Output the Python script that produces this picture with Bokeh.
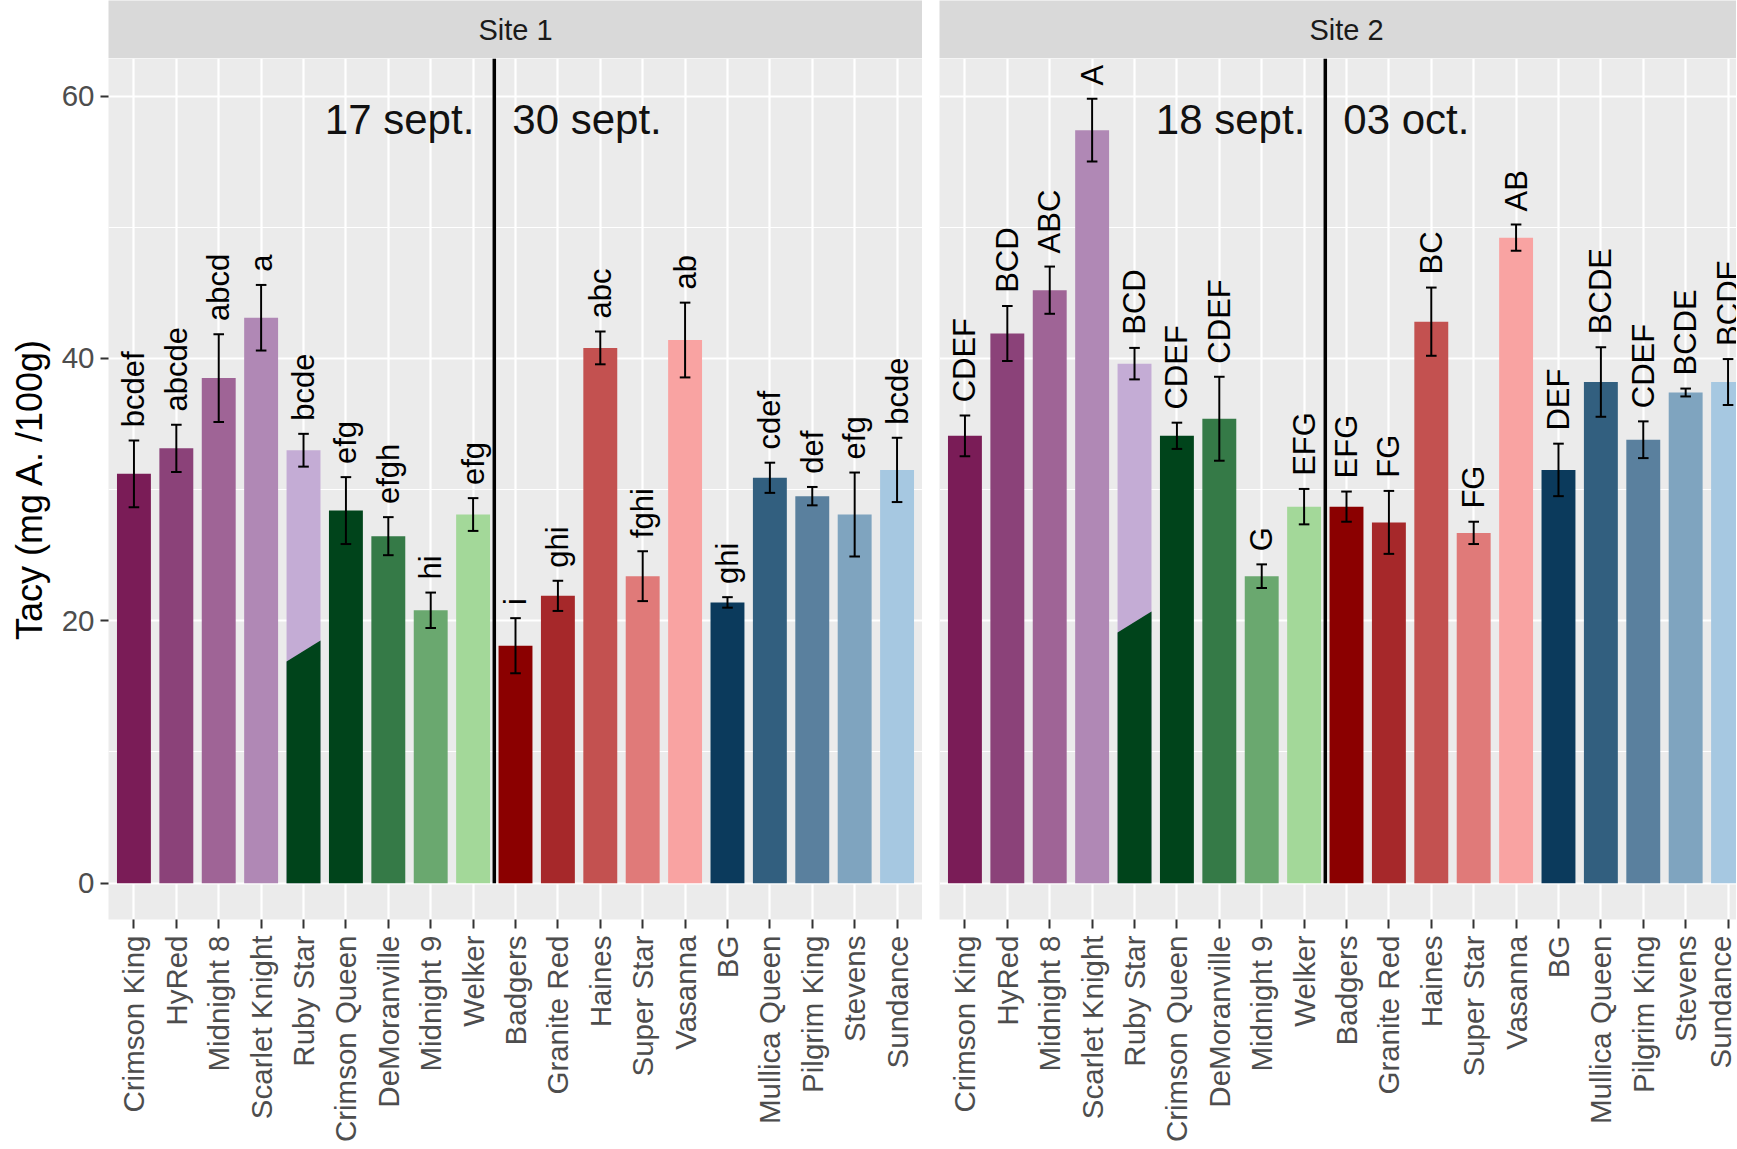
import math
from bokeh.plotting import figure
from bokeh.layouts import row, column
from bokeh.models import Range1d, FixedTicker, Grid, ColumnDataSource, Label
from bokeh.embed import file_html
from bokeh.resources import INLINE
from bokeh.core.properties import value

# ---------------- data ----------------
cultivars = ["Crimson King", "HyRed", "Midnight 8", "Scarlet Knight", "Ruby Star",
             "Crimson Queen", "DeMoranville", "Midnight 9", "Welker",
             "Badgers", "Granite Red", "Haines", "Super Star", "Vasanna",
             "BG", "Mullica Queen", "Pilgrim King", "Stevens", "Sundance"]

bar_colors = ["#7A1C57", "#8B4279", "#9F6496", "#B088B5", "#C4ACD5",
              "#00441B", "#357A47", "#6AA86F", "#A3D899",
              "#8B0000", "#A6282A", "#C35150", "#E07A79", "#F9A3A2",
              "#0B3A5C", "#325F7F", "#5A809E", "#7FA4BF", "#A6C8E1"]

site1_mean = [31.2, 33.15, 38.5, 43.1, 33.0, 28.4, 26.45, 20.8, 28.1,
              18.1, 21.9, 40.8, 23.4, 41.4, 21.4, 30.9, 29.5, 28.1, 31.5]
site1_se = [2.55, 1.8, 3.35, 2.5, 1.25, 2.55, 1.45, 1.35, 1.25,
            2.1, 1.15, 1.25, 1.9, 2.85, 0.4, 1.15, 0.7, 3.2, 2.45]
site1_letters = ["bcdef", "abcde", "abcd", "a", "bcde", "efg", "efgh", "hi", "efg",
                 "i", "ghi", "abc", "fghi", "ab", "ghi", "cdef", "def", "efg", "bcde"]

site2_mean = [34.1, 41.9, 45.2, 57.4, 39.6, 34.1, 35.4, 23.4, 28.7,
              28.7, 27.5, 42.8, 26.7, 49.2, 31.5, 38.2, 33.8, 37.4, 38.2]
site2_se = [1.55, 2.1, 1.8, 2.4, 1.2, 1.0, 3.2, 0.9, 1.35,
            1.15, 2.4, 2.6, 0.85, 1.0, 2.0, 2.65, 1.4, 0.3, 1.75]
site2_letters = ["CDEF", "BCD", "ABC", "A", "BCD", "CDEF", "CDEF", "G", "EFG",
                 "EFG", "FG", "BC", "FG", "AB", "DEF", "BCDE", "CDEF", "BCDE", "BCDE"]

site_names = ["Site 1", "Site 2"]
site1_dates = ["17 sept.", "30 sept."]
site2_dates = ["18 sept.", "03 oct."]

# dark-green lower part drawn on the Ruby Star bar (left edge, right edge heights)
ruby_green_site1 = [16.9, 18.5]
ruby_green_site2 = [19.1, 20.7]
ruby_index = 4
split_after = 8  # separator between Welker and Badgers

y_ticks = [0, 20, 40, 60]
y_minor = [10, 30, 50]

# ---------------- styling ----------------
FONT = "Liberation Sans"
Y0, Y1 = -2.77, 62.86
BAR_W = 0.8
CAP = 0.125
MAIN_H = 1090
STRIP_H = 58
UNIT_PX = 814 / 19.2
TICK_FS = "29.5px"


def make_panel(site, means, ses, letters, dates, green, width, mbl, x_end, show_y):
    n = len(means)
    xs = list(range(n))
    lo = [m - s for m, s in zip(means, ses)]
    hi = [m + s for m, s in zip(means, ses)]
    src = ColumnDataSource(dict(
        x=xs, mean=means, lo=lo, hi=hi, color=bar_colors,
        xl=[x - CAP for x in xs], xr=[x + CAP for x in xs],
        ly=[h + 1.0 for h in hi], letter=letters))

    xr = Range1d(-0.6, x_end)
    p = figure(width=width, height=MAIN_H, x_range=xr, y_range=Range1d(Y0, Y1),
               output_backend="svg", toolbar_location=None,
               min_border_left=mbl, min_border_right=0, min_border_top=0,
               min_border_bottom=MAIN_H - 861,
               background_fill_color="#EBEBEB", border_fill_color="white",
               outline_line_color=None,
               y_axis_location="left" if show_y else None)

    # grids
    p.xgrid.ticker = FixedTicker(ticks=xs)
    p.xgrid.grid_line_color = "white"
    p.xgrid.grid_line_width = 2.2
    if show_y:
        yg = p.ygrid[0]
    else:
        yg = Grid(dimension=1)
        p.add_layout(yg)
    yg.ticker = FixedTicker(ticks=y_ticks, minor_ticks=y_minor)
    yg.grid_line_color = "white"
    yg.grid_line_width = 2.2
    yg.minor_grid_line_color = "white"
    yg.minor_grid_line_width = 1.1

    # x axis
    ax = p.xaxis[0]
    ax.ticker = FixedTicker(ticks=xs)
    ax.major_label_overrides = {i: c for i, c in enumerate(cultivars)}
    ax.major_label_orientation = math.pi / 2
    ax.major_label_text_font = FONT
    ax.major_label_text_font_size = TICK_FS
    ax.major_label_text_color = "#4D4D4D"
    ax.major_tick_out = 9
    ax.major_tick_in = 0
    ax.major_tick_line_color = "#333333"
    ax.major_tick_line_width = 2
    ax.minor_tick_line_color = None
    ax.axis_line_color = None
    ax.major_label_standoff = 7

    if show_y:
        ya = p.yaxis[0]
        ya.ticker = FixedTicker(ticks=y_ticks)
        ya.major_label_text_font = FONT
        ya.major_label_text_font_size = TICK_FS
        ya.major_label_text_color = "#4D4D4D"
        ya.major_tick_out = 8
        ya.major_tick_in = 0
        ya.major_tick_line_color = "#333333"
        ya.major_tick_line_width = 2
        ya.minor_tick_line_color = None
        ya.axis_line_color = None
        ya.major_label_standoff = 6
        ya.axis_label = "Tacy (mg A. /100g)"
        ya.axis_label_text_font = FONT
        ya.axis_label_text_font_size = "36px"
        ya.axis_label_text_font_style = "normal"
        ya.axis_label_text_color = "black"
        ya.axis_label_standoff = 9

    # bars
    p.vbar(x="x", top="mean", bottom=0, width=BAR_W, fill_color="color",
           line_color=None, source=src)
    # green lower part of Ruby Star
    rx = xs[ruby_index]
    p.patch(x=[rx - BAR_W / 2, rx + BAR_W / 2, rx + BAR_W / 2, rx - BAR_W / 2],
            y=[0, 0, green[1], green[0]], fill_color="#00441B", line_color=None)

    # error bars
    p.segment(x0="x", y0="lo", x1="x", y1="hi", line_color="black", line_width=2, source=src)
    p.segment(x0="xl", y0="hi", x1="xr", y1="hi", line_color="black", line_width=2, source=src)
    p.segment(x0="xl", y0="lo", x1="xr", y1="lo", line_color="black", line_width=2, source=src)

    # letters
    p.text(x="x", y="ly", text="letter", angle=math.pi / 2, text_align="left",
           text_baseline="middle", text_font=value(FONT), text_font_size="31px",
           text_color="black", source=src)

    # separator
    sx = split_after + 0.5
    p.segment(x0=[sx], y0=[0], x1=[sx], y1=[Y1], line_color="black", line_width=3.5)
    p.add_layout(Label(x=sx, y=58.2, text=dates[0], x_offset=-20, text_align="right",
                       text_baseline="middle", text_font=FONT, text_font_size="42px",
                       text_color="#111111"))
    p.add_layout(Label(x=sx, y=58.2, text=dates[1], x_offset=18, text_align="left",
                       text_baseline="middle", text_font=FONT, text_font_size="42px",
                       text_color="#111111"))

    # strip
    s = figure(width=width, height=STRIP_H, x_range=xr, y_range=Range1d(0, 1),
               output_backend="svg", toolbar_location=None,
               x_axis_location=None, y_axis_location=None,
               min_border_left=mbl, min_border_right=0, min_border_top=0, min_border_bottom=0,
               background_fill_color="#D9D9D9", border_fill_color="white",
               outline_line_color=None)
    for r in list(s.center):
        if isinstance(r, Grid):
            r.visible = False
            r.grid_line_color = None
    s.add_layout(Label(x=9, y=0.5, text=site, text_align="center", text_baseline="middle",
                       text_font=FONT, text_font_size="29px", text_color="#1A1A1A"))
    return column(s, p)


c1 = make_panel(site_names[0], site1_mean, site1_se, site1_letters, site1_dates,
                ruby_green_site1, 922, 108, 18.6, True)
w2 = 1736 - 922
c2 = make_panel(site_names[1], site2_mean, site2_se, site2_letters, site2_dates,
                ruby_green_site2, w2, 17, -0.6 + (w2 - 17) / UNIT_PX, False)

layout = row(c1, c2)
open("out.html", "w").write(file_html(layout, INLINE))
